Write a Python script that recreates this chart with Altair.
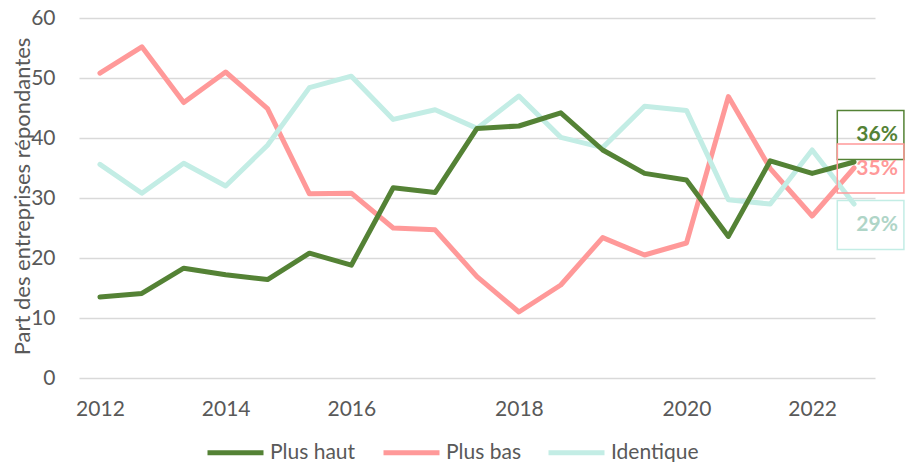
import altair as alt
import pandas as pd

# ---- data ----
series_names = ["Plus haut", "Plus bas", "Identique"]
plus_haut = [13.5, 14.1, 18.3, 17.2, 16.4, 20.8, 18.8, 31.7, 30.9, 41.6,
             42.0, 44.2, 38.0, 34.1, 33.0, 23.6, 36.2, 34.1, 36.0]
plus_bas = [50.8, 55.2, 45.9, 51.0, 44.9, 30.7, 30.8, 25.0, 24.7, 16.9,
            11.0, 15.5, 23.4, 20.5, 22.5, 46.9, 34.9, 27.0, 35.0]
identique = [35.6, 30.8, 35.8, 32.0, 38.8, 48.4, 50.3, 43.1, 44.7, 41.6,
             47.0, 40.1, 38.4, 45.3, 44.6, 29.7, 29.0, 38.0, 29.0]
tick_index = [0, 3, 6, 10, 14, 17]
tick_labels = ["2012", "2014", "2016", "2018", "2020", "2022"]
y_ticks = [0, 10, 20, 30, 40, 50, 60]

# ---- styling ----
FONT = "Lato"
TXT = "#595959"
FS = 21
line_colors = {"Plus haut": "#548235", "Plus bas": "#FF9999", "Identique": "#C3EDE5"}
label_text_colors = {"Plus haut": "#548235", "Plus bas": "#FF9999", "Identique": "#AFD5C7"}
label_offsets = {"Plus haut": 4.5, "Plus bas": -0.1, "Identique": -3.5}  # data units
box_left = 0.90    # index units left of the plot's right edge
box_right = 0.69   # index units right of the plot's right edge
text_shift = 0.05
box_half_h = 4.08

values = {"Plus haut": plus_haut, "Plus bas": plus_bas, "Identique": identique}
n = len(plus_haut)
draw_order = ["Plus bas", "Identique", "Plus haut"]

rows = []
for s in draw_order:
    for i, v in enumerate(values[s]):
        rows.append({"i": i, "value": v, "serie": s})
df = pd.DataFrame(rows)

x_max = n - 0.5
lab_rows = []
for s in series_names:
    v = values[s][-1]
    c = v + label_offsets[s]
    lab_rows.append({
        "serie": s, "xc": x_max + text_shift, "x0": x_max - box_left, "x1": x_max + box_right,
        "yc": c, "y0": c - box_half_h, "y1": c + box_half_h,
        "text": f"{round(v)}%", "tcolor": label_text_colors[s], "scolor": line_colors[s],
    })
lab = pd.DataFrame(lab_rows)

expr = ""
for ti, tl in zip(tick_index, tick_labels):
    expr += f"datum.value == {ti} ? '{tl}' : "
expr += "''"

x_scale = alt.Scale(domain=[-0.5, n - 0.5], nice=False, zero=False)
y_scale = alt.Scale(domain=[0, 60], nice=False)

x_enc = alt.X("i:Q", scale=x_scale, axis=alt.Axis(
    values=tick_index, labelExpr=expr, title=None, grid=False, domain=False,
    ticks=False, labelFontSize=FS, labelFont=FONT, labelColor=TXT, labelPadding=20))
y_enc = alt.Y("value:Q", scale=y_scale, axis=alt.Axis(
    values=y_ticks, title="Part des entreprises répondantes", domain=False, ticks=False,
    labelFontSize=FS, labelFont=FONT, labelColor=TXT, labelPadding=24,
    gridColor="#D9D9D9", gridWidth=1.3,
    titleFont=FONT, titleFontSize=22, titleFontWeight="normal", titleColor=TXT,
    titleX=-57, titleY=178, titleAlign="center", titleBaseline="middle", titleAngle=270))

lines = alt.Chart(df).mark_line(strokeWidth=5, strokeCap="round", strokeJoin="round").encode(
    x=x_enc, y=y_enc,
    color=alt.Color("serie:N", scale=alt.Scale(domain=series_names,
                                               range=[line_colors[s] for s in series_names]),
                    sort=series_names,
                    legend=alt.Legend(title=None, orient="none", legendX=126, legendY=404,
                                      direction="horizontal", symbolType="stroke",
                                      symbolSize=3136, symbolStrokeWidth=5,
                                      labelFontSize=FS, labelFont=FONT, labelColor=TXT,
                                      columnPadding=17, labelOffset=4, padding=0)),
)

boxes = alt.Chart(lab).mark_rect(filled=False, strokeWidth=1.5).encode(
    x=alt.X("x0:Q", scale=x_scale), x2="x1:Q",
    y=alt.Y("y0:Q", scale=y_scale), y2="y1:Q",
    stroke=alt.Stroke("scolor:N", scale=None),
)

texts = alt.Chart(lab).mark_text(fontSize=FS, fontWeight="bold", font=FONT,
                                 align="center", baseline="middle").encode(
    x=alt.X("xc:Q", scale=x_scale), y=alt.Y("yc:Q", scale=y_scale),
    text="text:N", color=alt.Color("tcolor:N", scale=None),
)

chart = alt.layer(lines, boxes, texts).properties(
    width=796, height=360,
    autosize=alt.AutoSizeParams(type="none"),
    padding={"left": 71, "top": 10, "right": 31, "bottom": 84},
).configure_view(stroke=None)

chart.save("out.html", embed_options={"renderer": "svg", "actions": False})
